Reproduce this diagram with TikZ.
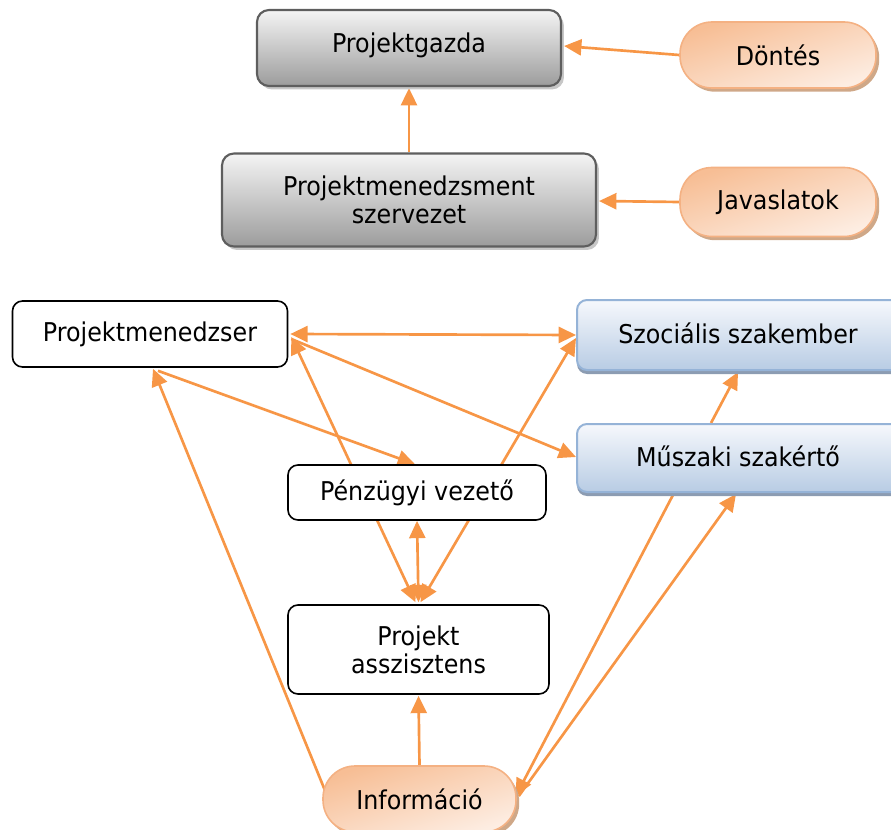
\documentclass[tikz,border=0pt]{standalone}
\usepackage{fontspec}
\setmainfont{DejaVu Sans}[FakeStretch=0.92]
\usetikzlibrary{arrows.meta,shadows,calc,backgrounds}
\definecolor{arr}{HTML}{F79646}
\definecolor{grayTop}{HTML}{F4F4F4}
\definecolor{grayBot}{HTML}{9C9C9C}
\definecolor{grayLine}{HTML}{5E5E5E}
\definecolor{orDark}{HTML}{F7BE95}
\definecolor{orLight}{HTML}{FDEDE2}
\definecolor{orLine}{HTML}{F4B183}
\definecolor{orShadow}{HTML}{CFA888}
\definecolor{blTop}{HTML}{F6F8FC}
\definecolor{blBot}{HTML}{B8CCE4}
\definecolor{blLine}{HTML}{95B3D7}
\definecolor{blShadow}{HTML}{8C9CB2}
\tikzset{
  graybox/.style={draw=grayLine, line width=1.6pt, rounded corners=9pt,
    top color=grayTop, bottom color=grayBot, inner sep=0pt, align=center,
    drop shadow={shadow xshift=2.2pt, shadow yshift=-2.6pt, fill=black!22, opacity=1}},
  pill/.style={draw=orLine, line width=1.2pt, rounded corners=24pt,
    top color=orDark, bottom color=orLight, shading angle=18, inner sep=0pt,
    drop shadow={shadow xshift=2.4pt, shadow yshift=-2.8pt, fill=orShadow, opacity=1}},
  whitebox/.style={draw=black, line width=1.2pt, rounded corners=7.5pt, fill=white,
    inner sep=0pt, align=center},
  bluebox/.style={draw=blLine, line width=1.5pt, rounded corners=7.5pt,
    top color=blTop, bottom color=blBot, inner sep=0pt,
    drop shadow={shadow xshift=0pt, shadow yshift=-3pt, fill=blShadow, opacity=1}},
  conn/.style={draw=arr, line width=2pt},
  tip/.tip={Triangle[length=13pt,width=12pt]},
}
\begin{document}
\begin{tikzpicture}[x=0.75pt,y=-0.75pt,
  font=\fontsize{19.4}{21}\selectfont]
\clip (0,0) rectangle (891,830);
% nodes
\node[graybox, minimum width={304*0.75pt}, minimum height={76*0.75pt}] (pg) at (409,48) {\raisebox{7.5pt}{Projektgazda}};
\node[graybox, minimum width={374*0.75pt}, minimum height={93*0.75pt}] (pmsz) at (409,200) {Projektmenedzsment\\szervezet};
\node[pill, minimum width={196*0.75pt}, minimum height={66*0.75pt}] (dontes) at (778,55) {Döntés};
\node[pill, minimum width={196*0.75pt}, minimum height={69*0.75pt}] (jav) at (778,202) {Javaslatok};
\node[whitebox, minimum width={275*0.75pt}, minimum height={66*0.75pt}] (pm) at (150,334) {\raisebox{3pt}{Projektmenedzser}};
\node[bluebox, minimum width={330*0.75pt}, minimum height={70*0.75pt}] (szoc) at (742,335) {\hspace*{-6pt}\raisebox{3pt}{Szociális szakember}};
\node[bluebox, minimum width={330*0.75pt}, minimum height={68*0.75pt}] (musz) at (742,458) {\hspace*{-6pt}\raisebox{3pt}{Műszaki szakértő}};
\node[whitebox, minimum width={258*0.75pt}, minimum height={55*0.75pt}] (pv) at (417,492.5) {Pénzügyi vezető};
\node[whitebox, minimum width={261*0.75pt}, minimum height={89*0.75pt}] (pa) at (418.5,649.5) {Projekt\\asszisztens};
\node[pill, minimum width={193*0.75pt}, minimum height={66*0.75pt}] (info) at (419.5,799) {Információ};
% connectors
\begin{scope}[on background layer]
\draw[conn,-tip] (dontes.west) -- ($(pg.east)+(2,-2)$);
\draw[conn,-tip] (jav.west) -- ($(pmsz.east)+(2,1)$);
\draw[conn,-tip] (pmsz.north) -- ($(pg.south)+(0,1)$);
\draw[conn,tip-tip] ($(pm.east)+(2,0)$) -- (szoc.west);
\draw[conn,-tip] ($(pm.east)+(3,5)$) -- ($(musz.west)+(0,-1)$);
\draw[conn,tip-tip] ($(pa.north)+(-3,-2)$) -- ($(pm.east)+(3,3)$);
\draw[conn,tip-tip] ($(pa.north)+(2,-2)$) -- ($(szoc.west)+(0,3)$);
\draw[conn,tip-tip] (pv.south) -- ($(pa.north)+(0,-2)$);
\draw[conn,-tip] ($(pm.south)+(8,3)$) -- ($(pv.north)+(-2,0)$);
\draw[conn,-tip] ($(info.west)+(3,-8)$) -- ($(pm.south)+(3,1)$);
\draw[conn,-tip] (info.north) -- ($(pa.south)+(0,1)$);
\draw[conn,-tip] ($(musz.north)+(-31,0)$) -- ($(szoc.south)+(-4,1)$);
\draw[conn,-tip] ($(musz.south)+(-68,0)$) -- ($(info.east)+(-1,-3)$);
\draw[conn,-tip] ($(info.east)+(2,-3)$) -- ($(musz.south)+(-6,1)$);
\end{scope}
\end{tikzpicture}
\end{document}
